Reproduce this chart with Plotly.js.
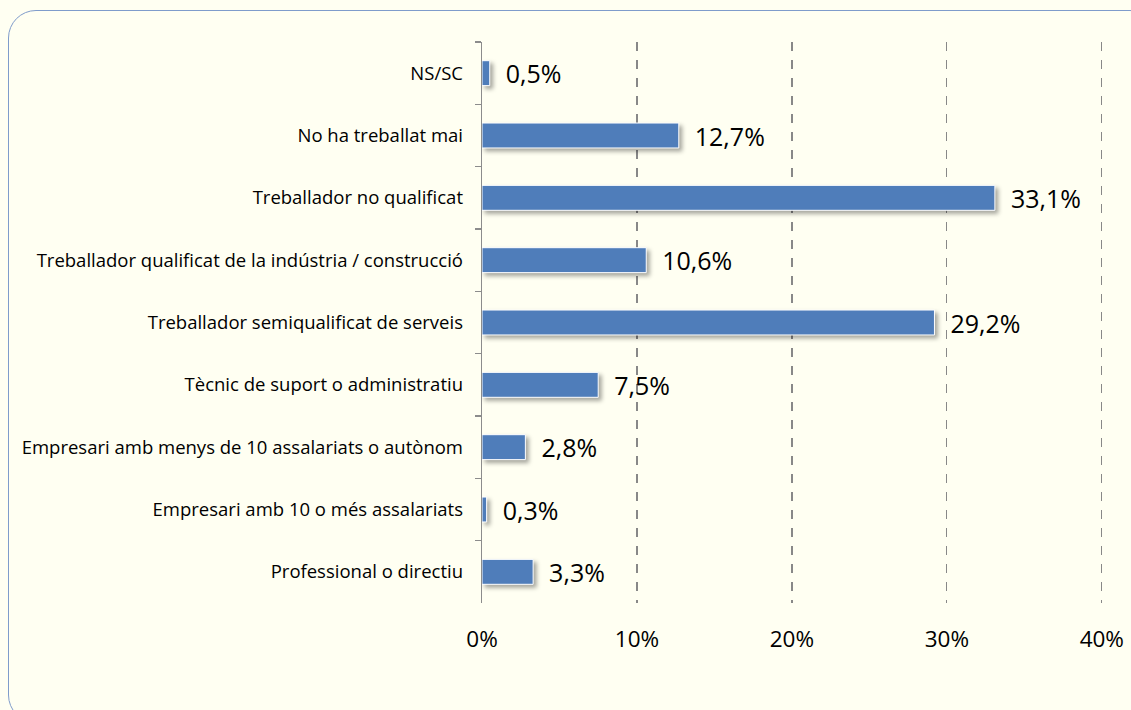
<!DOCTYPE html>
<html>
<head>
<meta charset="utf-8">
<script src="https://cdn.plot.ly/plotly-3.0.1.min.js"></script>
<style>
  html, body { margin:0; padding:0; background:#FFFFF2; overflow:hidden; }
  #wrap { position:relative; width:1131px; height:710px; background:#FFFFF2; overflow:hidden; }
  #frame { position:absolute; left:8px; top:10px; width:1150px; height:713px; border:1.5px solid #7F9CCB; border-radius:28px; box-sizing:border-box; pointer-events:none; z-index:2; }
  #chart { position:absolute; left:0; top:0; width:1131px; height:710px; }
  #chart .bars path { filter: drop-shadow(3px 3px 2px rgba(0,0,0,0.35)); }
</style>
</head>
<body>
<div id="wrap">
  <div id="chart"></div>
  <div id="frame"></div>
</div>
<script>
const categories = [
  "NS/SC",
  "No ha treballat mai",
  "Treballador no qualificat",
  "Treballador qualificat de la indústria / construcció",
  "Treballador semiqualificat de serveis",
  "Tècnic de suport o administratiu",
  "Empresari amb menys de 10 assalariats o autònom",
  "Empresari amb 10 o més assalariats",
  "Professional o directiu"
];
const values = [0.5, 12.7, 33.1, 10.6, 29.2, 7.5, 2.8, 0.3, 3.3];
const tickValues = [0, 10, 20, 30, 40];
const tickLabels = ["0%", "10%", "20%", "30%", "40%"];

const labelText = values.map(v => "  " + v.toFixed(1).replace(".", ",") + "%");

const trace = {
  type: "bar",
  orientation: "h",
  y: categories,
  x: values,
  text: labelText,
  textposition: "outside",
  constraintext: "none",
  cliponaxis: false,
  textfont: { family: "Open Sans, sans-serif", size: 25, color: "#000" },
  marker: { color: "#4F7DBA", line: { color: "#FFFFFF", width: 1 } },
  hoverinfo: "skip"
};

const layout = {
  width: 1131,
  height: 710,
  paper_bgcolor: "rgba(0,0,0,0)",
  plot_bgcolor: "rgba(0,0,0,0)",
  margin: { l: 482, r: 23, t: 42, b: 107 },
  separators: ",.",
  bargap: 0.6,
  showlegend: false,
  font: { family: "Open Sans, sans-serif", color: "#000" },
  xaxis: {
    range: [0, 40.4],
    tickvals: tickValues,
    ticktext: tickLabels,
    showgrid: true,
    gridcolor: "#888888",
    griddash: "dash",
    gridwidth: 1.3,
    zeroline: false,
    showline: false,
    ticks: "",
    ticklabelstandoff: 20,
    tickfont: { size: 22.5, color: "#000" }
  },
  yaxis: {
    autorange: "reversed",
    showline: true,
    linecolor: "#8C8C8C",
    linewidth: 1.3,
    ticks: "outside",
    tickson: "boundaries",
    ticklen: 6,
    tickcolor: "#8C8C8C",
    tickwidth: 1.3,
    showgrid: false,
    zeroline: false,
    ticklabelstandoff: 14,
    tickfont: { size: 18.5, color: "#000" }
  }
};

Plotly.newPlot("chart", [trace], layout, { displayModeBar: false, staticPlot: true });
</script>
</body>
</html>
